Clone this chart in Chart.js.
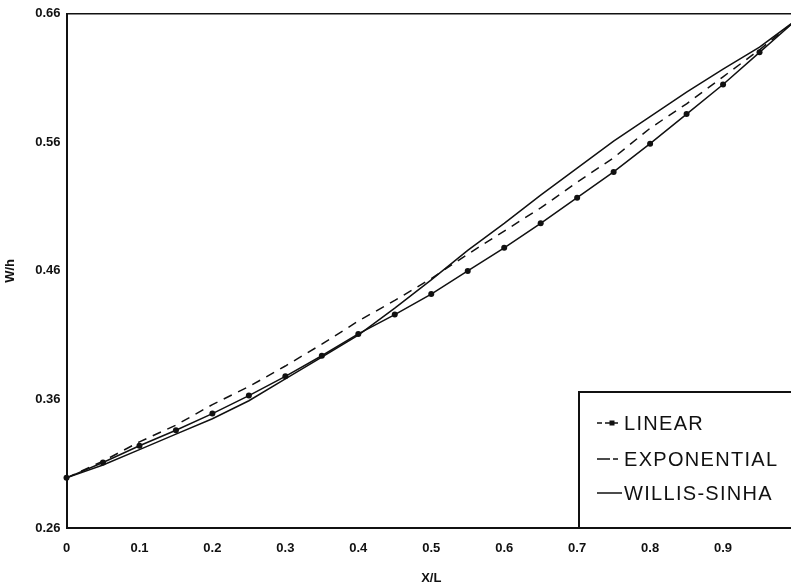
<!DOCTYPE html>
<html>
<head>
<meta charset="utf-8">
<title>W/h vs X/L</title>
<script src="https://cdn.jsdelivr.net/npm/chart.js@4.4.1/dist/chart.umd.min.js"></script>
<style>
  html, body { margin: 0; padding: 0; background: #fff; overflow: hidden; }
  #wrap { width: 800px; height: 588px; }
</style>
</head>
<body>
<div id="wrap"><canvas id="profileChart" width="800" height="588"></canvas></div>
<script>
// positions along the span (X/L)
const xValues = [0, 0.05, 0.1, 0.15, 0.2, 0.25, 0.3, 0.35, 0.4, 0.45, 0.5,
                 0.55, 0.6, 0.65, 0.7, 0.75, 0.8, 0.85, 0.9, 0.95, 1.0];

// W/h for each profile
const linearValues = [0.299, 0.311, 0.324, 0.336, 0.349, 0.363, 0.378, 0.394, 0.411, 0.426, 0.442,
                      0.460, 0.478, 0.497, 0.517, 0.537, 0.559, 0.582, 0.605, 0.630, 0.655];
const exponentialValues = [0.299, 0.312, 0.327, 0.340, 0.356, 0.370, 0.386, 0.403, 0.421, 0.437, 0.454,
                           0.473, 0.491, 0.509, 0.529, 0.548, 0.571, 0.590, 0.611, 0.632, 0.655];
const willisSinhaValues = [0.299, 0.309, 0.321, 0.333, 0.345, 0.359, 0.376, 0.393, 0.410, 0.431, 0.453,
                           0.476, 0.497, 0.519, 0.540, 0.561, 0.580, 0.599, 0.617, 0.634, 0.655];

const xTicks = [0, 0.1, 0.2, 0.3, 0.4, 0.5, 0.6, 0.7, 0.8, 0.9];
const yTicks = [0.26, 0.36, 0.46, 0.56, 0.66];
const legendLabels = ['LINEAR', 'EXPONENTIAL', 'WILLIS-SINHA'];

const FONT = "'Liberation Sans', Arial, sans-serif";
const INK = '#111';

function toPoints(values) {
    return xValues.map((x, i) => ({ x: x, y: values[i] }));
}

// top edge of the plotting frame
const framePlugin = {
    id: 'frame',
    afterDraw(chart) {
        const { ctx, chartArea } = chart;
        ctx.save();
        ctx.strokeStyle = INK;
        ctx.lineWidth = 1.5;
        ctx.beginPath();
        ctx.moveTo(chartArea.left, chartArea.top);
        ctx.lineTo(chartArea.right, chartArea.top);
        ctx.stroke();
        ctx.restore();
    }
};

// boxed legend in the lower right corner
const boxLegendPlugin = {
    id: 'boxLegend',
    afterDraw(chart) {
        const { ctx, chartArea } = chart;
        const x0 = 579, y0 = 392;
        ctx.save();
        ctx.strokeStyle = INK;
        ctx.lineWidth = 2;
        ctx.beginPath();
        ctx.moveTo(x0, chartArea.bottom);
        ctx.lineTo(x0, y0);
        ctx.lineTo(chart.width, y0);
        ctx.stroke();

        const rows = [423, 459, 493];
        const sx0 = 597, sx1 = 621;
        ctx.lineWidth = 1.5;

        // LINEAR sample: dashes with a marker
        ctx.setLineDash([5, 3]);
        ctx.beginPath();
        ctx.moveTo(sx0, rows[0]);
        ctx.lineTo(sx1, rows[0]);
        ctx.stroke();
        ctx.setLineDash([]);
        ctx.fillStyle = INK;
        ctx.fillRect(609.5, rows[0] - 2.5, 5, 5);

        // EXPONENTIAL sample
        ctx.setLineDash([13, 3, 5, 3]);
        ctx.beginPath();
        ctx.moveTo(sx0, rows[1]);
        ctx.lineTo(sx1, rows[1]);
        ctx.stroke();

        // WILLIS-SINHA sample
        ctx.setLineDash([]);
        ctx.beginPath();
        ctx.moveTo(sx0, rows[2]);
        ctx.lineTo(sx1 + 1, rows[2]);
        ctx.stroke();

        ctx.font = '20px ' + FONT;
        ctx.letterSpacing = '1.3px';
        ctx.textBaseline = 'middle';
        ctx.textAlign = 'left';
        legendLabels.forEach((label, i) => {
            ctx.fillText(label, 624, rows[i] + 1);
        });
        ctx.restore();
    }
};

const ctx = document.getElementById('profileChart').getContext('2d');
new Chart(ctx, {
    type: 'line',
    data: {
        datasets: [
            {
                label: legendLabels[0],
                data: toPoints(linearValues),
                borderColor: INK,
                borderWidth: 1.5,
                pointRadius: 3,
                pointBackgroundColor: INK,
                pointBorderWidth: 0,
                tension: 0,
                clip: false
            },
            {
                label: legendLabels[1],
                data: toPoints(exponentialValues),
                borderColor: INK,
                borderWidth: 1.5,
                borderDash: [9, 7],
                pointRadius: 0,
                tension: 0
            },
            {
                label: legendLabels[2],
                data: toPoints(willisSinhaValues),
                borderColor: INK,
                borderWidth: 1.5,
                pointRadius: 0,
                tension: 0
            }
        ]
    },
    options: {
        responsive: false,
        animation: false,
        events: [],
        layout: { padding: { top: 13, right: 4, left: 0, bottom: 0 } },
        plugins: {
            legend: { display: false },
            tooltip: { enabled: false }
        },
        scales: {
            x: {
                type: 'linear',
                min: 0,
                max: 1,
                afterBuildTicks: scale => { scale.ticks = xTicks.map(v => ({ value: v })); },
                afterFit: scale => { scale.height = 60; },
                grid: { display: false, drawTicks: false },
                border: { display: true, color: INK, width: 2 },
                ticks: {
                    padding: 13,
                    color: INK,
                    font: { family: FONT, size: 13, weight: 'bold' },
                    maxRotation: 0,
                    callback: v => (v === 0 ? '0' : v.toFixed(1))
                },
                title: {
                    display: true,
                    text: 'X/L',
                    color: INK,
                    font: { family: FONT, size: 13, weight: 'bold' },
                    padding: { top: 0, bottom: 2 }
                }
            },
            y: {
                min: 0.26,
                max: 0.66,
                afterBuildTicks: scale => { scale.ticks = yTicks.map(v => ({ value: v })); },
                afterFit: scale => { scale.width = 66.5; },
                grid: { display: false, drawTicks: false },
                border: { display: true, color: INK, width: 2 },
                ticks: {
                    padding: 6,
                    color: INK,
                    font: { family: FONT, size: 13, weight: 'bold' },
                    callback: v => v.toFixed(2)
                },
                title: {
                    display: true,
                    text: 'W/h',
                    color: INK,
                    font: { family: FONT, size: 13, weight: 'bold' },
                    padding: { top: 3, bottom: 0 }
                }
            }
        }
    },
    plugins: [framePlugin, boxLegendPlugin]
});
</script>
</body>
</html>
